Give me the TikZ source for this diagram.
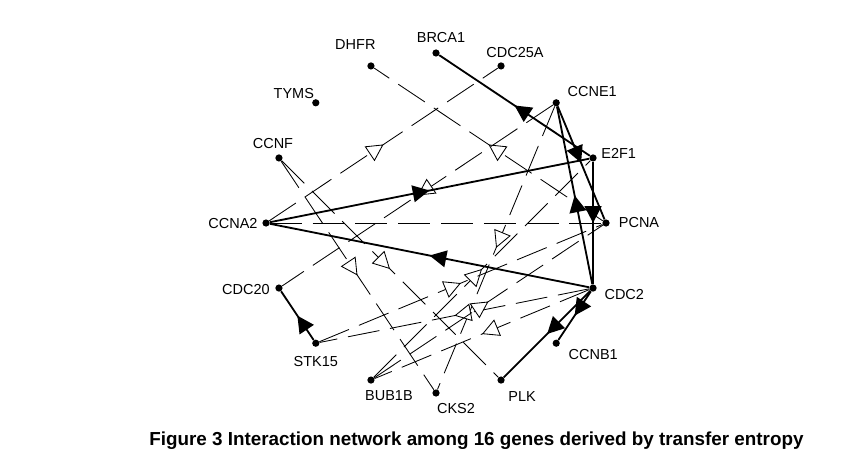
\documentclass[tikz,border=0pt]{standalone}
\usepackage{fontspec}
\setmainfont{Liberation Sans}
\usetikzlibrary{arrows.meta,decorations.markings}

\tikzset{
  gene/.style={circle,fill=black,inner sep=0pt,minimum size=0.18cm},
  genelabel/.style={font=\fontsize{10.3}{12}\selectfont,inner sep=0pt},
  strongedge/.style={line width=1.3pt,
    postaction={decorate,decoration={markings,mark=at position 0.5 with {\arrow[solid]{Triangle[length=0.42cm,width=0.42cm]}}}}},
  weakedge/.style={line width=0.6pt,dash pattern=on 0.8cm off 0.27cm,
    postaction={decorate,decoration={markings,mark=at position 0.5 with {\arrow[solid]{Triangle[length=0.42cm,width=0.44cm,fill=white]}}}}},
  flatedge/.style={line width=0.6pt,dash pattern=on 0.8cm off 0.27cm}
}

\begin{document}
\begin{tikzpicture}
  \useasboundingbox (0,0) rectangle (21.4,11.625);
  % genes on a circle
  \begin{scope}[shift={(10.9,6.05)}]
    \foreach \g [count=\i from 0] in {PCNA,E2F1,CCNE1,CDC25A,BRCA1,DHFR,TYMS,CCNF,CCNA2,CDC20,STK15,BUB1B,CKS2,PLK,CCNB1,CDC2}
      \node[gene] (\g) at ({22.5*\i}:4.25) {};
  \end{scope}
  % gene names
  \foreach \g/\dx/\dy in {BRCA1/0.125/0.375, DHFR/-0.39/0.525, CDC25A/0.35/0.325, TYMS/-0.55/0.225,
      CCNE1/0.9/0.275, CCNF/-0.15/0.35, E2F1/0.64/0.12, PCNA/0.825/0, CCNA2/-0.825/-0.025,
      CDC20/-0.825/-0.025, CDC2/0.78/-0.15, STK15/0/-0.45, CCNB1/0.925/-0.275,
      BUB1B/0.45/-0.4, CKS2/0.5/-0.4, PLK/0.525/-0.4}
    \node[genelabel] (\g-lab) at ([shift={(\dx,\dy)}]\g.center) {\g};

  \path
    (CCNA2) edge[weakedge] (CDC25A)
    (PCNA) edge[weakedge] (DHFR)
    (CCNE1) edge[weakedge] (CDC20)
    (CCNE1) edge[weakedge] (CKS2)
    (CCNF) edge[weakedge] (CKS2)
    (CCNF) edge[weakedge] (PLK)
    (BUB1B) edge[weakedge] (E2F1)
    (STK15) edge[weakedge] (PCNA)
    (CDC2) edge[weakedge] (STK15)
    (BUB1B) edge[weakedge] (PCNA)
    (CDC2) edge[weakedge] (BUB1B)
    (CCNA2) edge[flatedge] (PCNA);
  \path
    (E2F1) edge[strongedge] (BRCA1)
    (CCNA2) edge[strongedge] (E2F1)
    (CDC2) edge[strongedge] (CCNA2)
    (CCNE1) edge[strongedge] (PCNA)
    (CDC2) edge[strongedge] (CCNE1)
    (E2F1) edge[strongedge] (CDC2)
    (CDC2) edge[strongedge] (PLK)
    (CDC2) edge[strongedge] (CCNB1)
    (STK15) edge[strongedge] (CDC20);

  \node[font=\bfseries\fontsize{13.4}{16}\selectfont] (caption) at (11.91,0.6)
    {Figure 3 Interaction network among 16 genes derived by transfer entropy};
\end{tikzpicture}
\end{document}
